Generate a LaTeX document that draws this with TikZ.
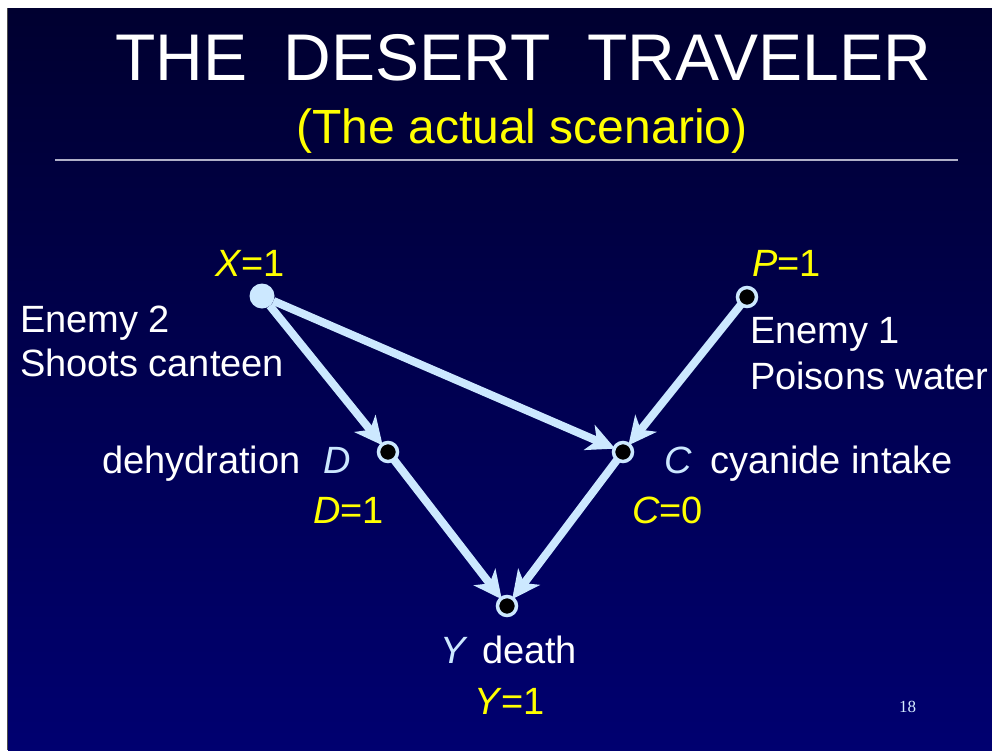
\documentclass[tikz,border=0pt]{standalone}
\usepackage{fontspec}
\setmainfont{Liberation Sans}
\newfontfamily\serifpn{Liberation Serif}
\usetikzlibrary{arrows.meta}
\definecolor{bgtop}{RGB}{0,0,48}
\definecolor{bgbot}{RGB}{0,0,112}
\definecolor{lblue}{RGB}{204,232,255}
\definecolor{yel}{RGB}{255,255,0}
\begin{document}
\begin{tikzpicture}[x=1pt,y=-1pt,
  every node/.style={inner sep=0pt,outer sep=0pt},
  body/.style={text=white,font=\fontsize{38}{44}\selectfont,anchor=base west},
  val/.style={text=yel,font=\fontsize{38}{44}\selectfont,anchor=base west},
  var/.style={text=lblue,font=\fontsize{38}{44}\selectfont\itshape,anchor=base west},
  dot/.style={circle,fill=black,draw=lblue,line width=3.5pt,minimum size=19pt},
  bigdot/.style={circle,fill=lblue,minimum size=25pt},
  edge/.style={draw=lblue,line width=8pt,-{Stealth[length=28pt,width=27pt,inset=8pt]},shorten >=-1pt}
]
\useasboundingbox (0,0) rectangle (992,750);
\fill[white] (0,0) rectangle (992,750);
\shade[top color=bgtop,bottom color=bgbot] (8,8) rectangle (992,750);
\draw[gray!60!black,line width=1pt] (7.5,8) -- (7.5,750);
% title
\node[text=white,font=\fontsize{66}{70}\selectfont,anchor=base] (title) at (523,80) {THE\ \ DESERT\ \ TRAVELER};
\node[text=yel,font=\fontsize{48}{52}\selectfont,anchor=base] (sub) at (522,143) {(The actual scenario)};
\draw[color={rgb,255:red,176;green,176;blue,200},line width=2pt] (55,160) -- (958,160);
% nodes
\node[bigdot] (X) at (262,296) {};
\node[dot] (P) at (747,297) {};
\node[dot] (D) at (388,452) {};
\node[dot] (C) at (623,452) {};
\node[dot] (Y) at (507,606) {};
% edges
\draw[edge] (X) -- (D);
\draw[edge] (X) -- (C);
\draw[edge] (P) -- (C);
\draw[edge] (D) -- (Y);
\draw[edge] (C) -- (Y);
% labels
\node[val] (xl) at (215,276) {\textit{X}=1};
\node[val] (pl) at (752,276) {\textit{P}=1};
\node[body] (e2a) at (20,332) {Enemy 2};
\node[body] (e2b) at (20,376) {Shoots canteen};
\node[body] (e1a) at (750,343) {Enemy 1};
\node[body] (e1b) at (750,389) {Poisons water};
\node[body] (dl) at (102,473) {dehydration};
\node[var] (dv) at (323,473) {D};
\node[val] (dval) at (313,523) {\textit{D}=1};
\node[var] (cv) at (664,473) {C};
\node[body] (cl) at (710,473) {cyanide intake};
\node[val] (cval) at (632,523) {\textit{C}=0};
\node[var] (yv) at (440,663) {Y};
\node[body] (yl) at (482,663) {death};
\node[val] (yval) at (474,714) {\textit{Y}=1};
\node[text=lblue!80!white,font=\serifpn\fontsize{17}{20}\selectfont,anchor=base west] (pg) at (899,712) {18};
\end{tikzpicture}
\end{document}
